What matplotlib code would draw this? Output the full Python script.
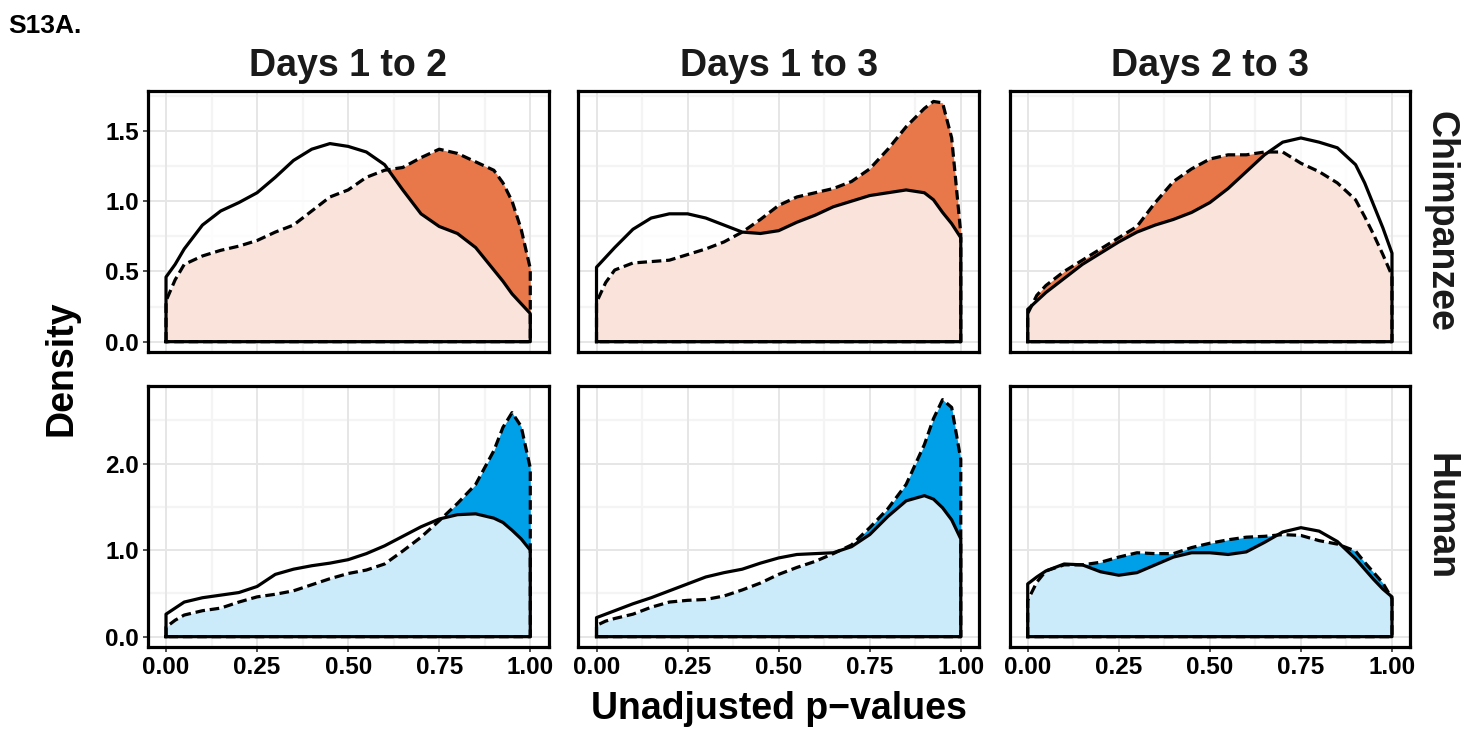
import matplotlib
matplotlib.use("Agg")
import matplotlib.pyplot as plt
from matplotlib.ticker import FixedLocator, FormatStrFormatter

plt.rcParams["font.family"] = ["Liberation Sans", "DejaVu Sans"]
plt.rcParams["font.weight"] = "bold"

# ── Density estimates of unadjusted p-values ─────────────────────────────────
p_grid = [0.0, 0.025, 0.05, 0.1, 0.15, 0.2, 0.25, 0.3, 0.35, 0.4, 0.45, 0.5,
          0.55, 0.6, 0.65, 0.7, 0.75, 0.8, 0.85, 0.9, 0.925, 0.95, 0.975, 1.0]

comparisons = ["Days 1 to 2", "Days 1 to 3", "Days 2 to 3"]
species = ["Chimpanzee", "Human"]

# solid = first set, dashed = second set
chimp_12_solid  = [0.46, 0.55, 0.66, 0.83, 0.93, 0.99, 1.06, 1.17, 1.29, 1.37, 1.41, 1.39,
                   1.35, 1.26, 1.08, 0.91, 0.82, 0.77, 0.67, 0.51, 0.43, 0.34, 0.27, 0.20]
chimp_12_dashed = [0.29, 0.44, 0.55, 0.61, 0.65, 0.68, 0.72, 0.78, 0.83, 0.93, 1.03, 1.08,
                   1.17, 1.22, 1.24, 1.31, 1.37, 1.34, 1.28, 1.22, 1.13, 1.00, 0.80, 0.52]
chimp_13_solid  = [0.53, 0.60, 0.67, 0.80, 0.88, 0.91, 0.91, 0.88, 0.83, 0.78, 0.77, 0.79,
                   0.85, 0.90, 0.96, 1.00, 1.04, 1.06, 1.08, 1.06, 1.01, 0.92, 0.84, 0.74]
chimp_13_dashed = [0.28, 0.42, 0.51, 0.56, 0.57, 0.58, 0.62, 0.66, 0.71, 0.78, 0.87, 0.97,
                   1.03, 1.06, 1.09, 1.14, 1.23, 1.37, 1.53, 1.66, 1.71, 1.70, 1.45, 0.77]
chimp_23_solid  = [0.23, 0.29, 0.35, 0.45, 0.55, 0.63, 0.71, 0.78, 0.83, 0.87, 0.92, 0.99,
                   1.09, 1.21, 1.33, 1.42, 1.45, 1.42, 1.38, 1.26, 1.13, 0.97, 0.81, 0.63]
chimp_23_dashed = [0.20, 0.33, 0.40, 0.50, 0.58, 0.66, 0.74, 0.82, 0.99, 1.14, 1.23, 1.30,
                   1.33, 1.33, 1.35, 1.35, 1.27, 1.21, 1.13, 1.01, 0.89, 0.76, 0.62, 0.47]

human_12_solid  = [0.26, 0.33, 0.40, 0.45, 0.48, 0.51, 0.58, 0.72, 0.78, 0.82, 0.85, 0.89,
                   0.96, 1.05, 1.16, 1.27, 1.36, 1.41, 1.42, 1.37, 1.32, 1.23, 1.13, 1.00]
human_12_dashed = [0.11, 0.19, 0.25, 0.30, 0.33, 0.40, 0.46, 0.49, 0.53, 0.60, 0.67, 0.73,
                   0.77, 0.84, 0.99, 1.15, 1.34, 1.54, 1.76, 2.15, 2.42, 2.59, 2.43, 1.95]
human_13_solid  = [0.22, 0.26, 0.30, 0.38, 0.45, 0.53, 0.61, 0.69, 0.74, 0.78, 0.85, 0.91,
                   0.95, 0.96, 0.97, 1.04, 1.18, 1.39, 1.57, 1.63, 1.59, 1.49, 1.35, 1.13]
human_13_dashed = [0.13, 0.18, 0.21, 0.26, 0.34, 0.40, 0.42, 0.43, 0.47, 0.54, 0.62, 0.72,
                   0.80, 0.87, 0.96, 1.06, 1.26, 1.48, 1.76, 2.22, 2.52, 2.74, 2.65, 2.05]
human_23_solid  = [0.61, 0.69, 0.76, 0.84, 0.83, 0.75, 0.71, 0.74, 0.83, 0.92, 0.97, 0.97,
                   0.95, 0.98, 1.09, 1.21, 1.26, 1.22, 1.10, 0.90, 0.78, 0.66, 0.55, 0.46]
human_23_dashed = [0.42, 0.63, 0.76, 0.83, 0.83, 0.86, 0.92, 0.97, 0.96, 0.96, 1.03, 1.08,
                   1.12, 1.15, 1.16, 1.18, 1.17, 1.11, 1.07, 0.99, 0.86, 0.74, 0.62, 0.44]

x_ticks = [0.0, 0.25, 0.5, 0.75, 1.0]
chimp_y_ticks = [0.0, 0.5, 1.0, 1.5]
human_y_ticks = [0.0, 1.0, 2.0]

curves = {
    ("Chimpanzee", "Days 1 to 2"): (chimp_12_solid, chimp_12_dashed),
    ("Chimpanzee", "Days 1 to 3"): (chimp_13_solid, chimp_13_dashed),
    ("Chimpanzee", "Days 2 to 3"): (chimp_23_solid, chimp_23_dashed),
    ("Human", "Days 1 to 2"): (human_12_solid, human_12_dashed),
    ("Human", "Days 1 to 3"): (human_13_solid, human_13_dashed),
    ("Human", "Days 2 to 3"): (human_23_solid, human_23_dashed),
}

# ── Styling per row ──────────────────────────────────────────────────────────
row_style = {
    "Chimpanzee": dict(fill="#E8784A", ylim=(-0.075, 1.785), ticks=chimp_y_ticks,
                       minor=[0.25, 0.75, 1.25, 1.75]),
    "Human":      dict(fill="#00A0E9", ylim=(-0.116, 2.90), ticks=human_y_ticks,
                       minor=[0.5, 1.5, 2.5]),
}
x_minor = [0.125, 0.375, 0.625, 0.875]

W, H = 1468, 731
fig = plt.figure(figsize=(W / 100, H / 100), dpi=100)

col_left = [147.8, 578.3, 1009.5]
col_width = 400.7
row_top = [90.9, 385.8]
row_height = [261.3, 260.9]


def add_px_axes(left, top, width, height):
    return fig.add_axes([left / W, 1 - (top + height) / H, width / W, height / H])


for r, sp in enumerate(species):
    st = row_style[sp]
    for c, comp in enumerate(comparisons):
        ax = add_px_axes(col_left[c], row_top[r], col_width, row_height[r])
        solid, dashed = curves[(sp, comp)]

        ax.set_xlim(-0.05, 1.05)
        ax.set_ylim(*st["ylim"])
        ax.set_axisbelow(True)

        # background grid, ggplot style
        for v in x_minor:
            ax.axvline(v, color="#F4F4F4", lw=1.6, zorder=0)
        for v in st["minor"]:
            ax.axhline(v, color="#F4F4F4", lw=1.6, zorder=0)
        for v in x_ticks:
            ax.axvline(v, color="#E6E6E6", lw=1.4, zorder=0.5)
        for v in st["ticks"]:
            ax.axhline(v, color="#E6E6E6", lw=1.4, zorder=0.5)

        # fills: dashed set underneath, solid set as translucent white on top
        ax.fill_between(p_grid, 0, dashed, color=st["fill"], lw=0, zorder=1)
        ax.fill_between(p_grid, 0, solid, color="white", alpha=0.8, lw=0, zorder=2)

        # full outlines of both densities
        ox = [0.0] + p_grid + [1.0, 0.0]
        ax.plot(ox, [0.0] + dashed + [0.0, 0.0], color="black", lw=2.3,
                ls=(0, (3.0, 1.5)), zorder=3, solid_joinstyle="round")
        ax.plot(ox, [0.0] + solid + [0.0, 0.0], color="black", lw=2.3,
                zorder=4, solid_joinstyle="round")

        for s in ax.spines.values():
            s.set_linewidth(2.3)
            s.set_color("black")

        ax.xaxis.set_major_locator(FixedLocator(x_ticks))
        ax.yaxis.set_major_locator(FixedLocator(st["ticks"]))
        ax.xaxis.set_major_formatter(FormatStrFormatter("%.2f"))
        ax.yaxis.set_major_formatter(FormatStrFormatter("%.1f"))
        ax.tick_params(length=3.6, width=1.2, color="#333333", labelsize=17.5,
                       labelcolor="black", pad=3)

        if r == 0:
            ax.tick_params(axis="x", bottom=False, labelbottom=False)
            pos = ax.get_position()
            fig.text((pos.x0 + pos.x1) / 2, 1 - 76 / H, comp, ha="center",
                     va="baseline", fontsize=27, color="#1A1A1A", fontweight="bold")
        if c > 0:
            ax.tick_params(axis="y", left=False, labelleft=False)
        if c == 2:
            fig.text((col_left[c] + col_width + 30) / W,
                     1 - (row_top[r] + row_height[r] / 2) / H, sp,
                     rotation=270, ha="center", va="center", fontsize=27,
                     color="#1A1A1A", fontweight="bold")

fig.text(62 / W, 1 - 368 / H, "Density", rotation=90, ha="center", va="center",
         fontsize=27, color="black", fontweight="bold")
fig.text(779 / W, 1 - 719 / H, "Unadjusted p\u2212values", ha="center",
         va="baseline", fontsize=27, color="black", fontweight="bold")
fig.text(8 / W, 1 - 33 / H, "S13A.", ha="left", va="baseline", fontsize=19,
         color="black", fontweight="bold")

fig.savefig("out.png", dpi=100)
